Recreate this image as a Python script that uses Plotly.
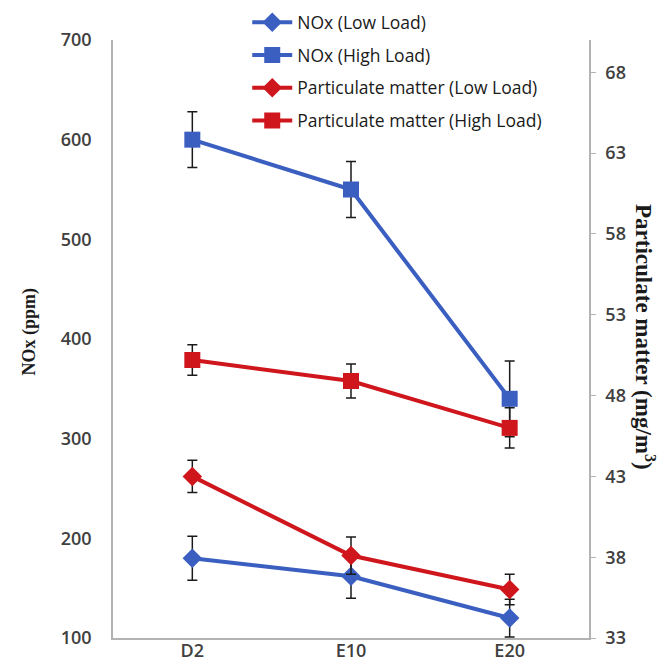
import plotly.graph_objects as go

fuels = ["D2", "E10", "E20"]

nox_low = [180, 162, 120]
nox_low_err = [22, 22, 19]
nox_high = [600, 550, 340]
nox_high_err = [28, 28, 38]

pm_low = [43.0, 38.1, 36.0]
pm_low_err = [1.0, 1.15, 0.95]
pm_high = [50.2, 48.9, 46.0]
pm_high_err = [0.95, 1.05, 1.25]

left_ticks = [100, 200, 300, 400, 500, 600, 700]
right_ticks = [33, 38, 43, 48, 53, 58, 63, 68]

BLUE = "#3b5fc1"
RED = "#d0161d"
TICK_FONT = dict(family="Open Sans", size=18, color="#404040", weight=600)

def err(vals):
    return dict(type="data", array=vals, visible=True, color="#1a1a1a", thickness=1.5, width=5)

fig = go.Figure()
fig.add_trace(go.Scatter(x=fuels, y=nox_low, name="NOx (Low Load)", mode="lines+markers",
                         line=dict(color=BLUE, width=4), marker=dict(symbol="diamond", size=15, color=BLUE),
                         error_y=err(nox_low_err), legendgroup="a", yaxis="y"))
fig.add_trace(go.Scatter(x=fuels, y=nox_high, name="NOx (High Load)", mode="lines+markers",
                         line=dict(color=BLUE, width=4), marker=dict(symbol="square", size=16, color=BLUE),
                         error_y=err(nox_high_err), legendgroup="b", yaxis="y"))
fig.add_trace(go.Scatter(x=fuels, y=pm_low, name="Particulate matter (Low Load)", mode="lines+markers",
                         line=dict(color=RED, width=4), marker=dict(symbol="diamond", size=15, color=RED),
                         error_y=err(pm_low_err), legendgroup="c", yaxis="y2"))
fig.add_trace(go.Scatter(x=fuels, y=pm_high, name="Particulate matter (High Load)", mode="lines+markers",
                         line=dict(color=RED, width=4), marker=dict(symbol="square", size=16, color=RED),
                         error_y=err(pm_high_err), legendgroup="d", yaxis="y2"))

fig.update_layout(
    width=671, height=666,
    margin=dict(l=105, r=90, t=5, b=36, autoexpand=False),
    paper_bgcolor="white", plot_bgcolor="white",
    showlegend=True,
    legend=dict(x=0.282, y=1.014, xanchor="left", yanchor="top", traceorder="grouped",
                tracegroupgap=7, itemwidth=40, bgcolor="rgba(0,0,0,0)",
                font=dict(family="Open Sans", size=17.5, color="#1a1a1a")),
    xaxis=dict(type="category", range=[-0.5, 2.5], showline=True, linecolor="#b3b3b3", linewidth=1.5,
               showgrid=False, ticks="", tickfont=TICK_FONT, zeroline=False, automargin=False,
               ticklabelstandoff=-4),
    yaxis=dict(range=[100, 700], tickvals=left_ticks, domain=[0, 0.9568], showline=True,
               linecolor="#b3b3b3", linewidth=1.5, showgrid=False, ticks="", tickfont=TICK_FONT,
               zeroline=False, automargin=False, ticklabelstandoff=16),
    yaxis2=dict(range=[33, 70], tickvals=right_ticks, overlaying="y", side="right", showline=True,
                linecolor="#b3b3b3", linewidth=1.5, showgrid=False, ticks="outside", ticklen=5,
                tickcolor="#b3b3b3", tickfont=TICK_FONT, zeroline=False, automargin=False,
                ticklabelstandoff=6),
    annotations=[
        dict(text="<b>NOx (ppm)</b>", xref="paper", yref="paper", x=-0.175, y=0.49, textangle=-90,
             xanchor="center", yanchor="middle", showarrow=False,
             font=dict(family="Liberation Serif", size=18, color="#1a1a1a")),
        dict(text="<b>Particulate matter (mg/m<sup>3</sup>)</b>", xref="paper", yref="paper", x=1.117,
             y=0.482, textangle=90, xanchor="center", yanchor="middle", showarrow=False,
             font=dict(family="Liberation Serif", size=23, color="#1a1a1a")),
    ],
)

fig.write_html("out.html")
